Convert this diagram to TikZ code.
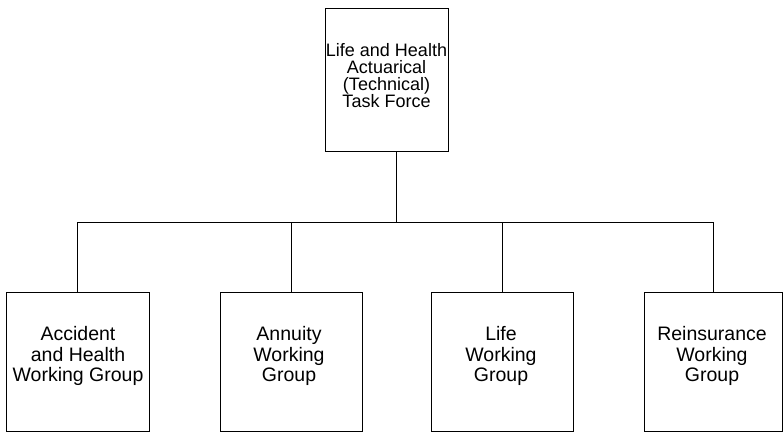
\documentclass[tikz,border=0pt]{standalone}
\usepackage{fontspec}
\setmainfont{Liberation Sans}
\begin{document}
\begin{tikzpicture}[x=1pt,y=1pt,
  box/.style={draw,line width=0.8pt,rectangle,inner sep=0pt},
  lbl/.style={align=center,font=\fontsize{19.5}{20.5}\selectfont,inner sep=0pt},
  toplbl/.style={align=center,font=\fontsize{18}{17}\selectfont,inner sep=0pt},
  conn/.style={line width=0.8pt}]
\useasboundingbox (0,0) rectangle (783,-433);
\node[box,minimum width=123pt,minimum height=143pt] (top) at (386.5,-79.5) {};
\node[toplbl] (ttop) at (386.5,-76) {Life and Health\\Actuarical\\(Technical)\\Task Force};
\node[box,minimum width=143pt,minimum height=139pt] (b1) at (77.5,-361.5) {};
\node[box,minimum width=142pt,minimum height=139pt] (b2) at (291,-361.5) {};
\node[box,minimum width=142pt,minimum height=139pt] (b3) at (502,-361.5) {};
\node[box,minimum width=138pt,minimum height=139pt] (b4) at (713,-361.5) {};
\node[lbl] (t1) at (78,-356) {Accident\\and Health\\Working Group};
\node[lbl] (t2) at (289,-356) {Annuity\\Working\\Group};
\node[lbl] (t3) at (501,-356) {Life\\Working\\Group};
\node[lbl] (t4) at (712,-356) {Reinsurance\\Working\\Group};
\coordinate (bus) at (396,-222);
\draw[conn] (top.south -| bus) -- (bus);
\draw[conn] (b1.north |- bus) -- (b4.north |- bus);
\draw[conn] (b1.north |- bus) -- (b1.north);
\draw[conn] (b2.north |- bus) -- (b2.north);
\draw[conn] (b3.north |- bus) -- (b3.north);
\draw[conn] (b4.north |- bus) -- (b4.north);
\end{tikzpicture}
\end{document}
